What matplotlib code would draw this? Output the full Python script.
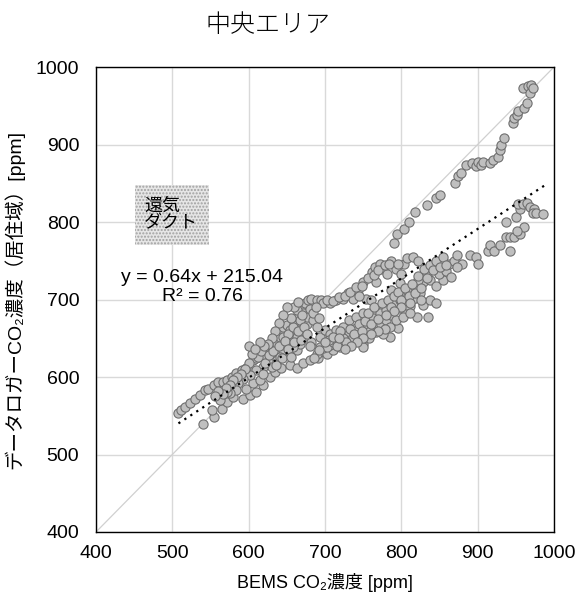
import matplotlib
matplotlib.use("Agg")
import matplotlib.pyplot as plt
import numpy as np
from matplotlib.patches import Rectangle

plt.rcParams['font.family'] = ['Liberation Sans', 'Noto Sans CJK JP', 'DejaVu Sans']

# upper branch (close to y = x)
upper_x = [508, 511, 517, 523, 530, 536, 543, 547, 554, 560, 567, 571, 578, 584, 591, 597,
           606, 610, 617, 623, 630, 637, 641, 645, 650, 654, 660, 665, 669, 674, 678, 682,
           689, 695, 698, 706, 715, 724, 730, 737, 743, 750, 754, 761, 765, 767, 772, 776,
           781, 787, 793, 800, 804, 808, 815, 822, 790, 794, 803, 810, 818, 833, 846, 850,
           870, 874, 878, 885, 892, 898, 900, 905, 907, 916, 920, 927, 929, 931, 935, 946,
           948, 951, 953, 961, 964, 959, 966, 970, 968, 973,
           702, 710, 718, 726, 733, 740, 748, 756, 764, 770, 778, 784, 796, 760, 745]
upper_y = [554, 557, 561, 566, 571, 577, 583, 585, 590, 593, 594, 596, 600, 605, 609, 611,
           622, 624, 628, 635, 639, 643, 652, 665, 667, 661, 669, 678, 686, 695, 699, 701,
           699, 699, 695, 695, 699, 701, 708, 701, 712, 723, 701, 736, 742, 723, 746, 740,
           733, 750, 740, 733, 746, 753, 755, 750, 773, 785, 791, 800, 813, 822, 831, 835,
           850, 859, 863, 874, 876, 872, 878, 874, 878, 876, 880, 884, 893, 900, 908, 928,
           934, 938, 943, 947, 953, 973, 975, 977, 966, 973,
           700, 698, 703, 705, 710, 716, 718, 728, 732, 738, 744, 746, 746, 700, 705]

# lower branch and dense cluster
lower_x = [540, 554, 552, 565, 571, 580, 593, 602, 610, 619, 597, 606, 615, 628, 634, 643,
           654, 663, 671, 680, 691, 702, 711, 719, 726, 735, 746, 750, 757, 765, 774, 780,
           785, 796, 787, 798, 806, 811, 820, 835, 828, 837, 846, 815, 824, 804, 807, 818,
           828, 837, 846, 855, 849, 858, 862, 869, 873, 880, 890, 898, 900, 873, 865, 833,
           822, 798, 787, 776, 767, 758, 750, 740, 732, 723, 715, 706, 698, 689,
           913, 916, 922, 929, 942, 937, 942, 948, 955, 961, 951, 937, 950, 955, 953, 959,
           965, 968, 974, 972, 977, 985,
           637, 645, 650, 654, 663, 671, 676, 667, 682, 694, 700, 706, 715, 724, 732, 741,
           750, 763, 772, 780, 789, 798, 807, 628, 630, 619, 610, 602, 593, 586, 584, 575,
           571, 562, 619, 637, 641, 654, 663, 667, 658, 645, 652, 658, 671, 676, 667, 663,
           680, 684, 689, 694, 702, 711, 724, 732, 737, 746, 750, 758, 767, 776, 785, 793,
           802, 811,
           612, 616, 622, 626, 632, 636, 640, 644, 648, 652, 656, 660, 664, 668, 672, 676,
           680, 684, 688, 692, 660, 665, 670, 655, 650, 645, 640, 635, 630, 625, 620, 615,
           605, 600, 595, 590, 585, 580, 576, 570, 566, 560, 556, 600, 608,
           705, 710, 716, 720, 728, 733, 738, 744, 748, 752, 756, 760, 764, 770, 775, 778,
           782, 786, 790, 795, 800, 805, 810, 814, 818, 822, 826, 830, 834, 838, 842, 846,
           850, 854, 858, 826, 812, 800, 790, 780, 770, 760, 750, 742, 734, 726, 718, 700,
           692, 685]
lower_y = [540, 549, 557, 559, 568, 574, 572, 577, 581, 590, 585, 592, 596, 600, 607, 611,
           615, 611, 618, 622, 624, 630, 635, 639, 648, 652, 656, 643, 661, 665, 669, 674,
           652, 663, 680, 689, 682, 691, 678, 678, 693, 699, 695, 701, 708, 701, 712, 717,
           723, 725, 717, 725, 733, 737, 746, 750, 757, 746, 757, 755, 746, 742, 729, 733,
           725, 721, 712, 689, 684, 676, 667, 663, 658, 650, 646, 641, 637, 630,
           762, 770, 763, 770, 762, 781, 781, 781, 785, 793, 789, 800, 806, 817, 823, 823,
           825, 819, 817, 811, 811, 810,
           630, 635, 641, 648, 652, 656, 669, 660, 645, 652, 661, 656, 661, 665, 674, 678,
           682, 676, 682, 686, 695, 699, 693, 622, 613, 613, 609, 602, 598, 592, 583, 579,
           581, 570, 604, 622, 626, 630, 635, 643, 639, 652, 656, 665, 682, 678, 673, 686,
           688, 673, 665, 639, 639, 645, 643, 643, 652, 648, 639, 650, 658, 656, 665, 673,
           678, 682,
           626, 633, 618, 628, 633, 616, 640, 624, 646, 636, 626, 645, 660, 648, 664, 656,
           640, 682, 690, 676, 690, 697, 680, 676, 690, 680, 670, 660, 650, 642, 640, 645,
           630, 618, 610, 604, 600, 596, 590, 586, 578, 582, 575, 640, 636,
           648, 652, 640, 660, 645, 662, 656, 668, 660, 672, 682, 668, 690, 675, 695, 662,
           700, 690, 705, 710, 700, 715, 705, 720, 708, 730, 715, 740, 728, 745, 738, 750,
           742, 755, 745, 700, 695, 690, 685, 680, 660, 655, 650, 645, 640, 636, 650, 645,
           635, 625]

bems = np.array(upper_x + lower_x)
logger = np.array(upper_y + lower_y)

slope, intercept = 0.64, 215.04
r2 = 0.76
fit_x = np.array([508, 988])

fig = plt.figure(figsize=(5.77, 5.99), dpi=100)
ax = fig.add_axes([96 / 577, 1 - 532 / 599, 458 / 577, 465 / 599])

ax.set_xlim(400, 1000)
ax.set_ylim(400, 1000)
ax.set_xticks(range(400, 1001, 100))
ax.set_yticks(range(400, 1001, 100))
ax.grid(True, color='#d9d9d9', linewidth=1.0)
ax.set_axisbelow(True)
ax.tick_params(axis='y', length=0, labelsize=14, pad=12)
ax.tick_params(axis='x', length=0, labelsize=14, pad=9)
for s in ax.spines.values():
    s.set_color('black')
    s.set_linewidth(1.0)

ax.plot([400, 1000], [400, 1000], color='#d0d0d0', linewidth=0.9, zorder=1)
ax.scatter(bems, logger, s=44, facecolor='#bfbfbf', edgecolor='#6f6f6f',
           linewidth=0.8, zorder=3)
ax.plot(fit_x, slope * fit_x + intercept, color='black', linestyle=(0, (1, 2.2)),
        linewidth=1.6, zorder=4)

ax.add_patch(Rectangle((451, 770), 97, 78, facecolor='#e6e6e6', edgecolor='#a0a0a0',
                       hatch='.....', linewidth=0, zorder=2))
ax.text(463, 809, '還気\nダクト', fontsize=13, ha='left', va='center',
        linespacing=1.1, zorder=5)

ax.text(539, 716, f'y = {slope:.2f}x + {intercept:.2f}\nR² = {r2:.2f}', fontsize=14,
        ha='center', va='center', linespacing=1.1, zorder=5)

ax.set_xlabel('BEMS CO₂濃度 [ppm]', fontsize=13, labelpad=8)
ax.set_ylabel('データロガーCO₂濃度（居住域）[ppm]', fontsize=14, labelpad=8)

fig.text(268 / 577, 1 - 25 / 599, '中央エリア', fontsize=18, ha='center', va='center',
         family=['Noto Sans CJK JP'], fontweight='light')

fig.savefig('out.png', dpi=100)
